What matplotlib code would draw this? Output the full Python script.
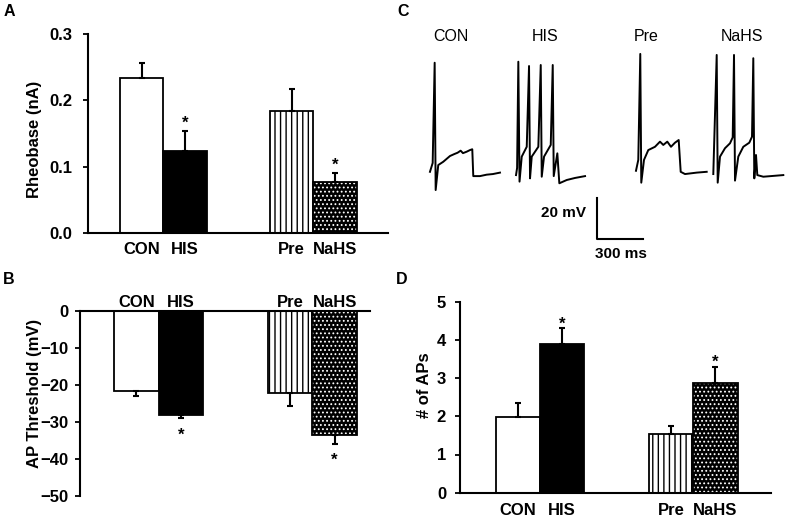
import matplotlib
matplotlib.use("Agg")
import matplotlib.pyplot as plt

plt.rcParams['font.family'] = ['Liberation Sans', 'DejaVu Sans']
plt.rcParams['hatch.linewidth'] = 1.0

groups = ["CON", "HIS", "Pre", "NaHS"]
starred = [False, True, False, True]

# panel A - rheobase (nA)
rheobase = [0.234, 0.124, 0.184, 0.077]
rheobase_err = [0.023, 0.030, 0.033, 0.014]

# panel B - AP threshold (mV)
threshold = [-21.6, -28.1, -22.1, -33.6]
threshold_err = [1.3, 1.0, 3.6, 2.3]

# panel D - number of APs
ap_count = [1.99, 3.88, 1.53, 2.86]
ap_count_err = [0.37, 0.42, 0.22, 0.44]

# panel C - example traces, time (ms) and membrane potential (mV)
con_t = [0, 17.6, 30.6, 37.1, 54.1, 86.7, 130.4, 160, 180, 200, 215, 239.2, 260.8, 275.8, 282.3, 325.9, 369.6, 410, 456.4]
con_v = [-59.9, -55.6, -6.7, -68.8, -56.6, -55.0, -52.2, -51.2, -50.6, -49.6, -50.8, -50.1, -49.3, -48.9, -62.0, -62.0, -61.3, -61.0, -60.3]

his_t = [0, 7, 15.0, 22.8, 37.2, 69.8, 84.8, 91.3, 102.4, 145.4, 161.1, 167.6, 182.6, 226.3, 239.3, 245.8,
         269.3, 282.3, 330.6, 384.7, 449.9]
his_v = [-61.5, -58, -6.2, -64.7, -52.5, -47.7, -8.3, -63.1, -52.5, -47.7, -7.8, -62.3, -52.5, -46.8, -7.8, -62.0,
         -50.9, -65.5, -63.9, -62.9, -62.0]

pre_t = [0, 15.0, 28.0, 34.5, 52.2, 80.2, 123.9, 156.5, 178.0, 204.1, 228.2, 254.3, 278.4, 291.5, 319.5, 395.8, 461.0]
pre_v = [-59.4, -54.1, -2.4, -65.2, -54.1, -49.3, -47.7, -45.2, -46.8, -45.2, -47.7, -45.7, -44.4, -59.9, -61.0, -60.3, -59.9]

nahs_t = [0, 22.2, 28.7, 43.7, 76.3, 108.9, 126.5, 135.0, 141.5, 163.0, 195.6, 234.7, 252.3, 260.8, 267.3, 278.4,
          286.9, 326.0, 456.4]
nahs_v = [-61.0, -2.9, -65.2, -52.5, -48.4, -46.0, -43.1, -2.9, -64.2, -52.5, -47.7, -45.7, -42.8, -4.5, -63.1, -51.7,
          -61.5, -62.3, -61.5]

traces = [(con_t, con_v), (his_t, his_v), (pre_t, pre_v), (nahs_t, nahs_v)]
trace_start = [0, 561, 1343, 1847]

W, H = 788, 518
fig = plt.figure(figsize=(W / 100, H / 100), dpi=100)


def px_axes(x0, x1, ytop, ybot):
    return fig.add_axes([x0 / W, 1 - ybot / H, (x1 - x0) / W, (ybot - ytop) / H])


def draw_bars(ax, pos, vals, errs, up=True):
    for i in range(4):
        if i == 0:
            ax.bar(pos[i], vals[i], 1, color='white', edgecolor='black', linewidth=1.3, zorder=2)
        elif i == 1:
            ax.bar(pos[i], vals[i], 1, color='black', edgecolor='black', linewidth=1.3, zorder=2)
        elif i == 2:
            ax.bar(pos[i], vals[i], 1, color='white', edgecolor='black', hatch='|||', linewidth=1.3, zorder=2)
        else:
            dots = ax.bar(pos[i], vals[i], 1, color='black', edgecolor='white', hatch='....', linewidth=0, zorder=2)
            for p in dots:
                if hasattr(p, 'set_hatch_linewidth'):
                    p.set_hatch_linewidth(0.8)
            ax.bar(pos[i], vals[i], 1, facecolor='none', edgecolor='black', linewidth=1.3, zorder=3)
        yerr = [[0], [errs[i]]] if up else [[errs[i]], [0]]
        ax.errorbar(pos[i], vals[i], yerr=yerr, fmt='none', ecolor='black',
                    elinewidth=1.5, capsize=2.2, capthick=1.5, zorder=4)


def stars(ax, pos, vals, errs, dy_px, up=True):
    for i in range(4):
        if starred[i]:
            top = vals[i] + errs[i] if up else vals[i] - errs[i]
            ax.annotate('*', (pos[i], top), xytext=(0, dy_px * 0.72), textcoords='offset points',
                        ha='center', va='baseline', fontsize=12, fontweight='bold', zorder=5)


def style_axes(ax, ypad):
    for s in ['top', 'right']:
        ax.spines[s].set_visible(False)
    for s in ['left', 'bottom', 'top']:
        ax.spines[s].set_linewidth(1.5)
    ax.tick_params(axis='y', direction='out', length=3.5, width=1.3, pad=ypad, labelsize=12)
    for lab in ax.get_yticklabels():
        lab.set_fontweight('bold')


# ---- A ----
axA = px_axes(88, 388, 34, 233.3)
posA = [1.236, 2.236, 4.684, 5.684]
draw_bars(axA, posA, rheobase, rheobase_err)
stars(axA, posA, rheobase, rheobase_err, 3)
axA.set_xlim(0, 6.9)
axA.set_ylim(0, 0.3)
axA.set_yticks([0.0, 0.1, 0.2, 0.3])
axA.set_yticklabels(['0.0', '0.1', '0.2', '0.3'])
style_axes(axA, 8)
axA.set_xticks(posA)
axA.set_xticklabels(groups, fontsize=12, fontweight='bold')
axA.tick_params(axis='x', length=0, pad=6.6)
axA.set_ylabel('Rheobase (nA)', fontsize=12, fontweight='bold')
axA.yaxis.set_label_coords(-0.153, 0.47)

# ---- B ----
axB = px_axes(80, 370, 311, 495.7)
posB = [1.274, 2.274, 4.75, 5.75]
draw_bars(axB, posB, threshold, threshold_err, up=False)
stars(axB, posB, threshold, threshold_err, -21, up=False)
axB.set_xlim(0, 6.55)
axB.set_ylim(-50, 0)
axB.set_yticks([0, -10, -20, -30, -40, -50])
style_axes(axB, 4.7)
axB.spines['bottom'].set_visible(False)
axB.spines['top'].set_visible(True)
axB.xaxis.tick_top()
axB.set_xticks(posB)
axB.set_xticklabels(groups, fontsize=12, fontweight='bold')
axB.tick_params(axis='x', length=0, pad=0.5)
axB.set_ylabel('AP Threshold (mV)', fontsize=12, fontweight='bold')
axB.yaxis.set_label_coords(-0.131, 0.554)

# ---- D ----
axD = px_axes(460, 771, 301.7, 492.7)
posD = [1.314, 2.314, 4.783, 5.783]
draw_bars(axD, posD, ap_count, ap_count_err)
stars(axD, posD, ap_count, ap_count_err, 0)
axD.set_xlim(0, 7.04)
axD.set_ylim(0, 5)
axD.set_yticks([0, 1, 2, 3, 4, 5])
style_axes(axD, 6.5)
axD.set_xticks(posD)
axD.set_xticklabels(groups, fontsize=12, fontweight='bold')
axD.tick_params(axis='x', length=0, pad=7.2)
axD.set_ylabel('# of APs', fontsize=12, fontweight='bold')
axD.yaxis.set_label_coords(-0.09, 0.564)

# ---- C ----
axC = px_axes(420, 788, 0, 270)
axC.set_xlim(-65, 2334)
axC.set_ylim(-107.8, 23.9)
axC.axis('off')
label_t = [137, 750, 1412, 2034]
for (t, v), t0, name, lt in zip(traces, trace_start, groups, label_t):
    axC.plot([x + t0 for x in t], v, color='black', linewidth=1.4, solid_joinstyle='round')
    axC.text(lt, 5.9, name, ha='center', va='center', fontsize=11.5)
# scale bar: 20 mV, 300 ms
axC.plot([1087, 1087, 1387], [-72.8, -92.8, -92.8], color='black', linewidth=1.5)
axC.text(1015, -80, '20 mV', ha='right', va='center', fontsize=11, fontweight='bold')
axC.text(1244, -100, '300 ms', ha='center', va='center', fontsize=11, fontweight='bold')

# panel letters
for letter, x, y in [('A', 9.5, 12), ('B', 9, 280), ('C', 403.5, 12), ('D', 402, 280)]:
    fig.text(x / W, 1 - y / H, letter, ha='center', va='center', fontsize=11.5, fontweight='bold')

fig.savefig('out.png', dpi=100)
